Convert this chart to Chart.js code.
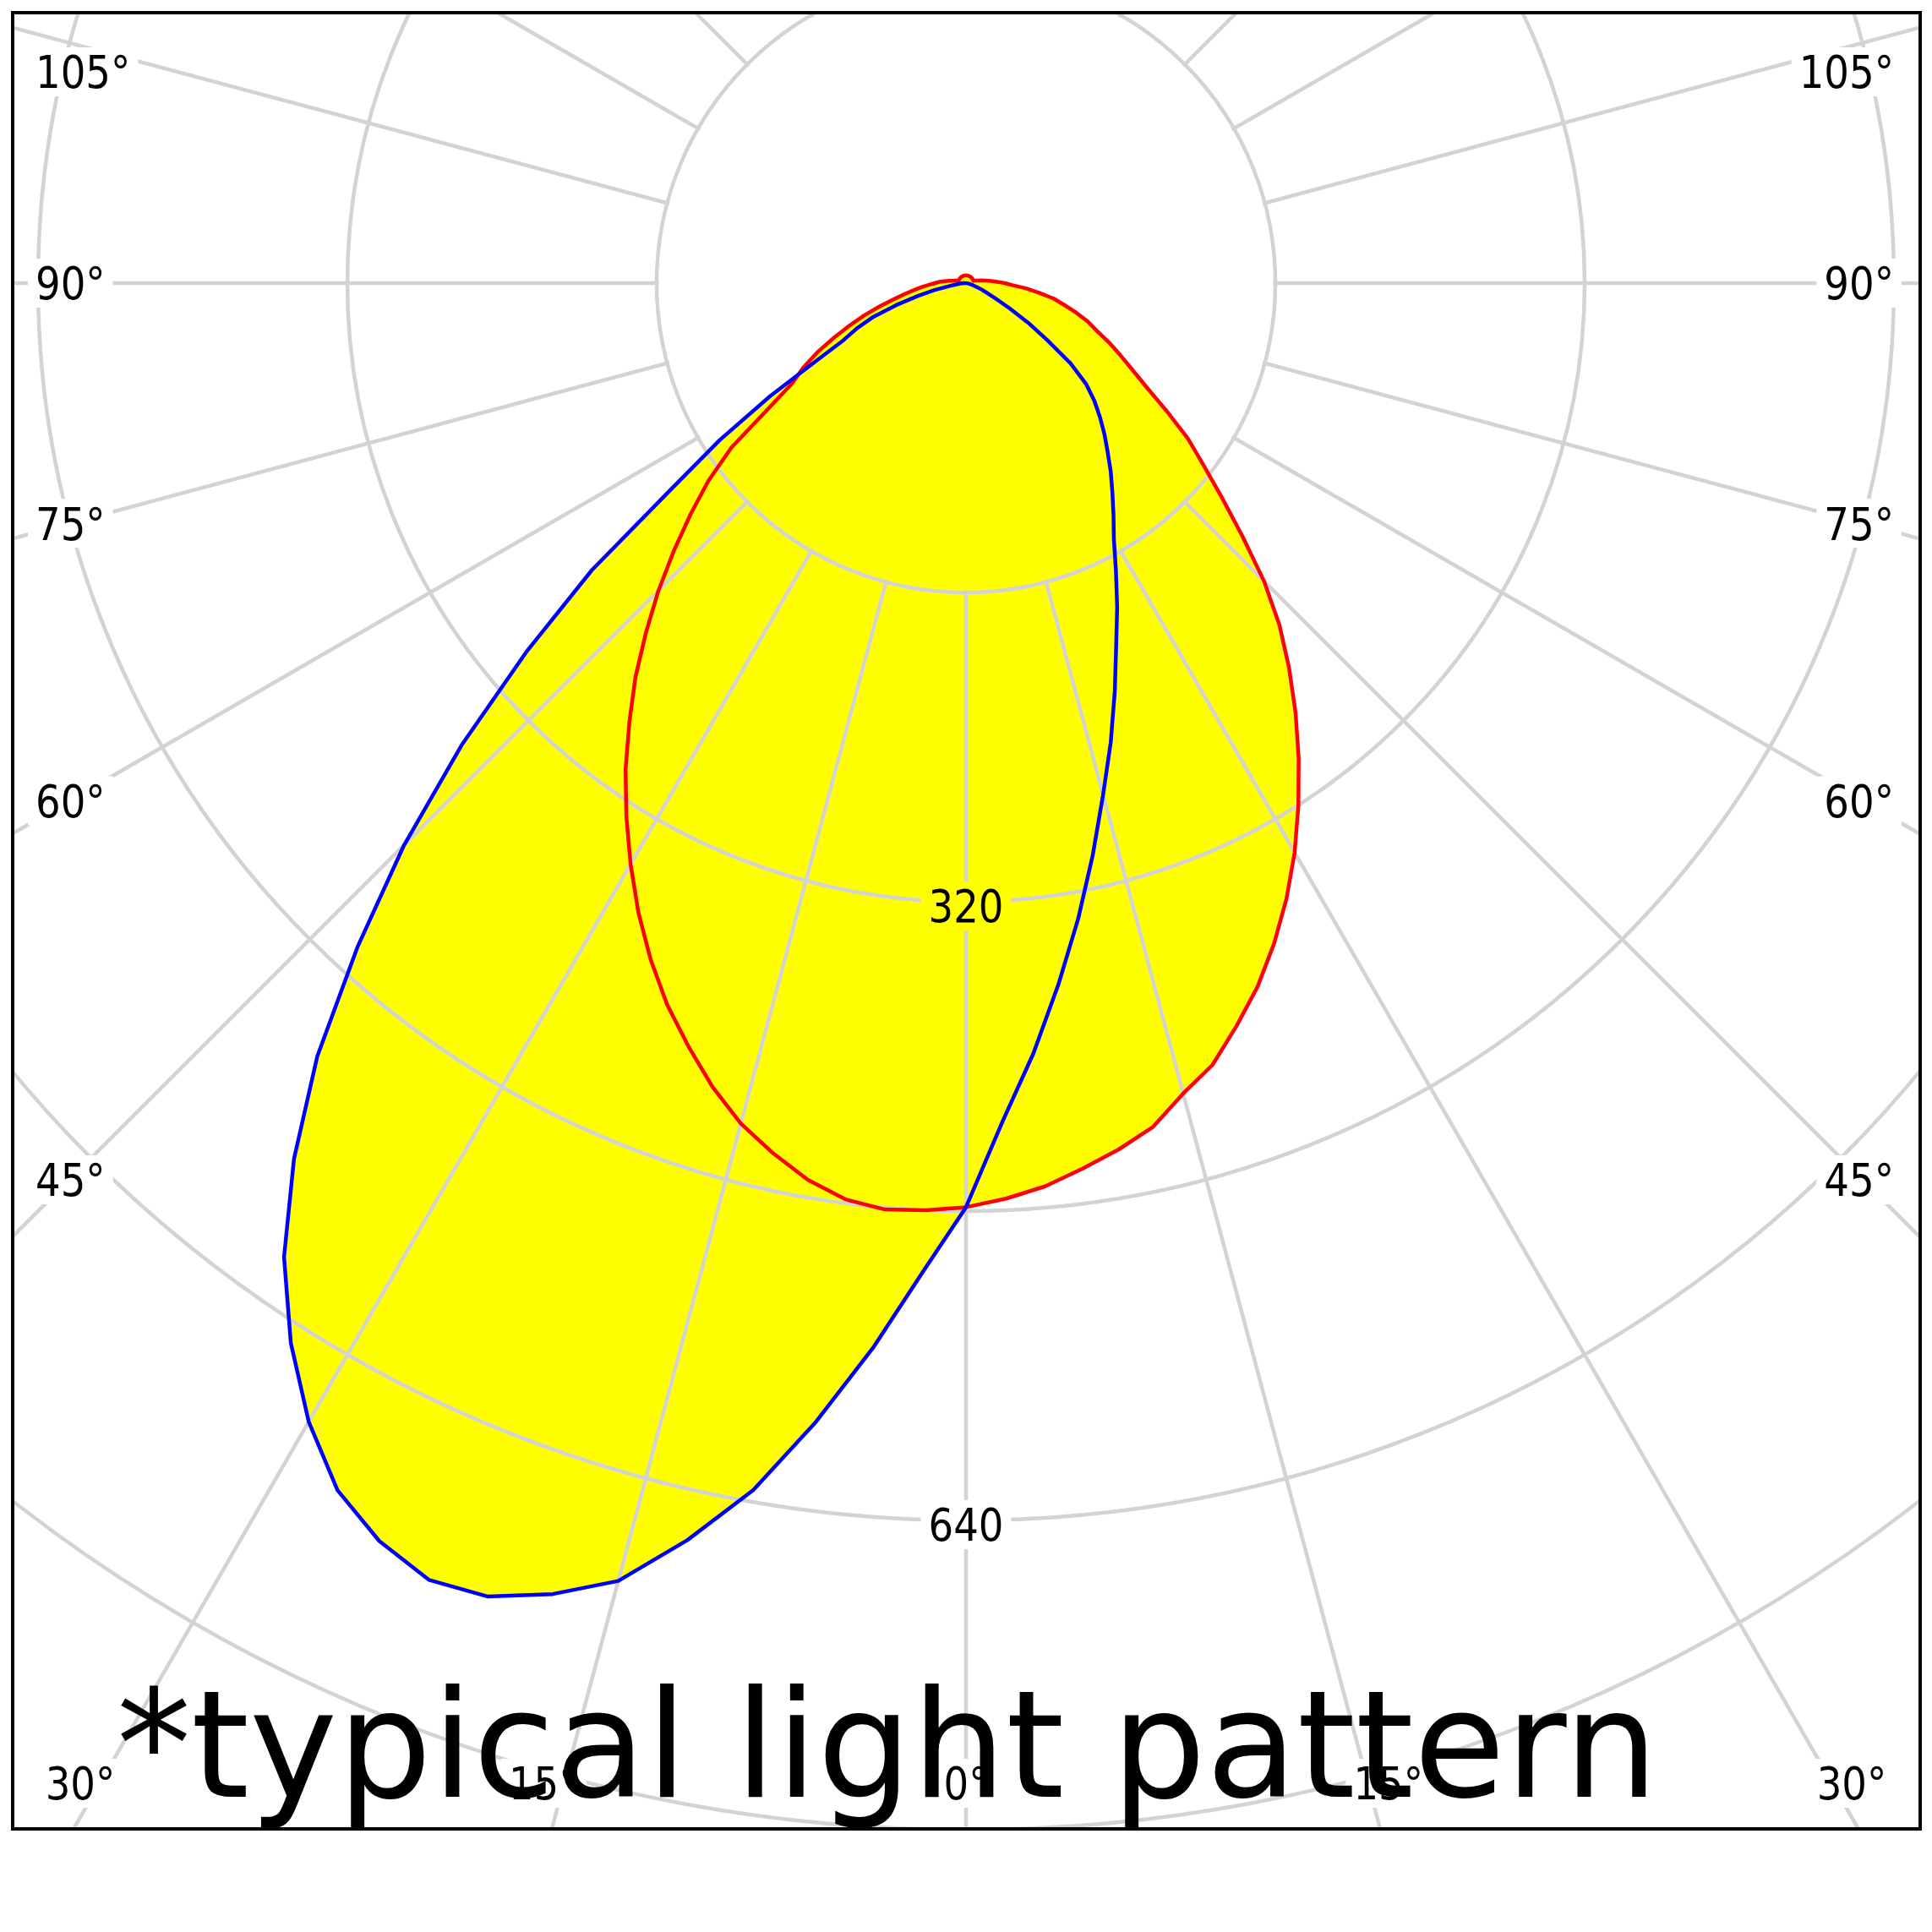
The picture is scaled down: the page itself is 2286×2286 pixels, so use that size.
<!DOCTYPE html>
<html>
<head>
<meta charset="utf-8">
<script src="https://cdn.jsdelivr.net/npm/chart.js@4.4.1/dist/chart.umd.min.js"></script>
<style>
  html, body { margin: 0; padding: 0; background: #fff; }
  body { width: 2286px; height: 2286px; position: relative; overflow: hidden; }
  #frame { position: absolute; left: 13px; top: 13px; width: 2261px; height: 2153px;
           box-sizing: border-box; border: 4px solid #000; overflow: hidden; background: #fff; }
  #polar { position: absolute; left: -1070px; top: -1878px; }
</style>
</head>
<body>
<div id="frame"><canvas id="polar" width="4392" height="4392"></canvas></div>
<script>
// gamma angle of each sample, counted from straight down; 0..180 is the left half, 180..360 the right half
const gammaAngles = [
  0, 2.5, 5, 7.5, 10, 12.5, 15, 17.5, 20, 22.5, 25, 27.5,
  30, 32.5, 35, 37.5, 40, 42.5, 45, 47.5, 50, 52.5, 55, 57.5,
  60, 62.5, 65, 67.5, 70, 72.5, 75, 77.5, 80, 82.5, 85, 87.5,
  90, 92.5, 95, 97.5, 100, 102.5, 105, 107.5, 110, 112.5, 115, 117.5,
  120, 122.5, 125, 127.5, 130, 132.5, 135, 137.5, 140, 142.5, 145, 147.5,
  150, 152.5, 155, 157.5, 160, 162.5, 165, 167.5, 170, 172.5, 175, 177.5,
  180, 182.5, 185, 187.5, 190, 192.5, 195, 197.5, 200, 202.5, 205, 207.5,
  210, 212.5, 215, 217.5, 220, 222.5, 225, 227.5, 230, 232.5, 235, 237.5,
  240, 242.5, 245, 247.5, 250, 252.5, 255, 257.5, 260, 262.5, 265, 267.5,
  270, 272.5, 275, 277.5, 280, 282.5, 285, 287.5, 290, 292.5, 295, 297.5,
  300, 302.5, 305, 307.5, 310, 312.5, 315, 317.5, 320, 322.5, 325, 327.5,
  330, 332.5, 335, 337.5, 340, 342.5, 345, 347.5, 350, 352.5, 355, 357.5
];

// luminous intensity (cd) of the two planes
const redPlane = [
  478, 480, 481, 478, 471, 461, 450, 436, 420, 404, 386, 367,
  347, 327, 307, 286, 266, 245, 225, 205, 186, 168, 148, 122,
  104, 95, 85, 74, 64, 55, 46, 38, 32, 27, 23, 19,
  16, 14, 11, 9, 7, 6, 5, 4, 4, 4, 4, 4,
  4, 4, 4, 4, 4, 4, 4, 4, 4, 4, 4, 4,
  4, 4, 4, 4, 4, 4, 4, 4, 4, 4, 4, 4,
  4, 4, 4, 4, 4, 4, 4, 4, 4, 4, 4, 4,
  4, 4, 4, 4, 4, 4, 4, 4, 4, 4, 4, 4,
  4, 4, 4, 4, 4, 4, 5, 6, 8, 10, 13, 16,
  20, 24, 31, 38, 46, 52, 59, 66, 72, 80, 88, 97,
  108, 123, 140, 155, 173, 194, 218, 240, 260, 280, 300, 320,
  340, 359, 377, 394, 409, 424, 434, 447, 455, 462, 469, 474
];
const bluePlane = [
  478, 512, 553, 594, 634, 666, 695, 711, 723, 726, 718, 704,
  680, 650, 615, 571, 522, 466, 411, 354, 297, 244, 187, 151,
  117, 88, 70, 61, 51, 38, 26, 17, 9, 5, 3, 1,
  0, 0, 0, 0, 0, 0, 0, 0, 0, 0, 0, 0,
  0, 0, 0, 0, 0, 0, 0, 0, 0, 0, 0, 0,
  0, 0, 0, 0, 0, 0, 0, 0, 0, 0, 0, 0,
  0, 0, 0, 0, 0, 0, 0, 0, 0, 0, 0, 0,
  0, 0, 0, 0, 0, 0, 0, 0, 0, 0, 0, 0,
  0, 0, 0, 0, 0, 0, 0, 0, 0, 0, 0, 0,
  0, 0, 0, 0, 1, 2, 3, 4, 6, 9, 12, 17,
  26, 38, 51, 68, 81, 90, 98, 106, 114, 123, 132, 142,
  153, 168, 185, 203, 225, 249, 274, 303, 334, 366, 400, 434
];

// tick labels
const gammaTicks = [0, 15, 30, 45, 60, 75, 90, 105];
const intensityTicks = [320, 640];
const note = '*typical light pattern';

// page position of the lamp centre and the inside of the frame
const CX = 1143, CY = 335;
const FRAME = { left: 17, top: 17, right: 2270, bottom: 2162 };
const LABEL_FONT = 53, LABEL_SQUEEZE = 0.88;
const GRID = '#d3d3d3';

function labelLayout(chart) {
  const ctx = chart.ctx;
  const sc = chart.scales.r;
  const ox = sc.xCenter - CX, oy = sc.yCenter - CY;
  ctx.save();
  ctx.font = LABEL_FONT + 'px "DejaVu Sans"';
  const items = [];
  const add = (text, x, y, align) => {
    const w = ctx.measureText(text).width * LABEL_SQUEEZE;
    const left = align === 'left' ? x : align === 'right' ? x - w : x - w / 2;
    items.push({ text, x: x + ox, y: y + oy, align, box: [left - 9 + ox, y - 29 + oy, w + 18, 58] });
  };
  gammaTicks.forEach(g => {
    [-1, 1].forEach(side => {
      if (g === 0 && side > 0) return;
      const a = g * Math.PI / 180;
      const dx = side * Math.sin(a), dy = Math.cos(a);
      const tSide = dx === 0 ? Infinity : ((side < 0 ? FRAME.left : FRAME.right) - CX) / dx;
      const tBottom = dy > 0.0001 ? (FRAME.bottom - CY) / dy : Infinity;
      const text = g + '°';
      if (tBottom < tSide) {
        let x = CX + dx * (2200 - CY) / dy;
        x = Math.min(Math.max(x, 95), 2 * CX - 95);
        add(text, x, 2110, 'center');
      } else {
        const t = (side < 0 ? CX - 82 : 2204 - CX) / Math.abs(dx);
        const y = Math.max(CY + dy * t, 85);
        add(text, side < 0 ? 42 : 2241, y, side < 0 ? 'left' : 'right');
      }
    });
  });
  intensityTicks.forEach(v => {
    add(String(v), CX, CY + sc.getDistanceFromCenterForValue(v) + 5, 'center');
  });
  ctx.restore();
  return items;
}

const polarGrid = {
  id: 'polarGrid',
  // grid goes over the yellow fill but under the red and blue curves,
  // and not inside the first ring or behind the labels
  afterDatasetDraw(chart, args) {
    if (!chart.data.datasets[args.index].gridOnTop) return;
    const sc = chart.scales.r;
    const ctx = chart.ctx;
    const rIn = sc.getDistanceFromCenterForValue(sc.ticks[1].value) - 2.5;
    ctx.save();
    ctx.beginPath();
    ctx.rect(0, 0, chart.width, chart.height);
    ctx.moveTo(sc.xCenter + rIn, sc.yCenter);
    ctx.arc(sc.xCenter, sc.yCenter, rIn, 0, Math.PI * 2);
    labelLayout(chart).forEach(l => ctx.rect(l.box[0], l.box[1], l.box[2], l.box[3]));
    ctx.clip('evenodd');
    sc.drawGrid();
    ctx.restore();
  },
  afterDraw(chart) {
    const ctx = chart.ctx;
    const sc = chart.scales.r;
    const ox = sc.xCenter - CX, oy = sc.yCenter - CY;
    ctx.save();
    ctx.fillStyle = '#000';
    ctx.font = LABEL_FONT + 'px "DejaVu Sans"';
    ctx.textBaseline = 'alphabetic';
    labelLayout(chart).forEach(l => {
      ctx.save();
      ctx.translate(l.x, l.y + LABEL_FONT * 0.3645);
      ctx.scale(LABEL_SQUEEZE, 1);
      ctx.textAlign = l.align;
      ctx.fillText(l.text, 0, 0);
      ctx.restore();
    });
    ctx.font = '176px "DejaVu Sans"';
    ctx.textAlign = 'left';
    ctx.fillText(note, 138 + ox, 2126 + oy);
    ctx.restore();
  }
};

new Chart(document.getElementById('polar'), {
  type: 'radar',
  data: {
    labels: gammaAngles.map(g => g + '°'),
    datasets: [
      { label: 'C90-C270', data: bluePlane, borderColor: '#0000ff', borderWidth: 4.5,
        fill: false, order: 1 },
      { label: 'C0-C180', data: redPlane, borderColor: '#ff0000', borderWidth: 4.5,
        fill: false, order: 2 },
      { label: 'area C0-C180', data: redPlane, backgroundColor: '#ffff00', borderWidth: 0,
        fill: 'origin', order: 11 },
      { label: 'area C90-C270', data: bluePlane, backgroundColor: '#ffff00', borderWidth: 0,
        fill: 'origin', order: 10, gridOnTop: true }
    ]
  },
  options: {
    responsive: false,
    animation: false,
    devicePixelRatio: 1,
    events: [],
    layout: { padding: 0 },
    elements: {
      line: { tension: 0, borderJoinStyle: 'round', borderCapStyle: 'round' },
      point: { radius: 0, hoverRadius: 0 }
    },
    plugins: {
      legend: { display: false },
      tooltip: { enabled: false }
    },
    scales: {
      r: {
        display: false,
        min: 0,
        max: 960,
        startAngle: 180,
        ticks: { stepSize: 160, display: false },
        pointLabels: { display: false },
        grid: { circular: true, color: GRID, lineWidth: 4.5 },
        angleLines: { display: true, color: GRID, lineWidth: c => (c.index % 6 === 0 ? 4.5 : 0) }
      }
    }
  },
  plugins: [polarGrid]
});
</script>
</body>
</html>
